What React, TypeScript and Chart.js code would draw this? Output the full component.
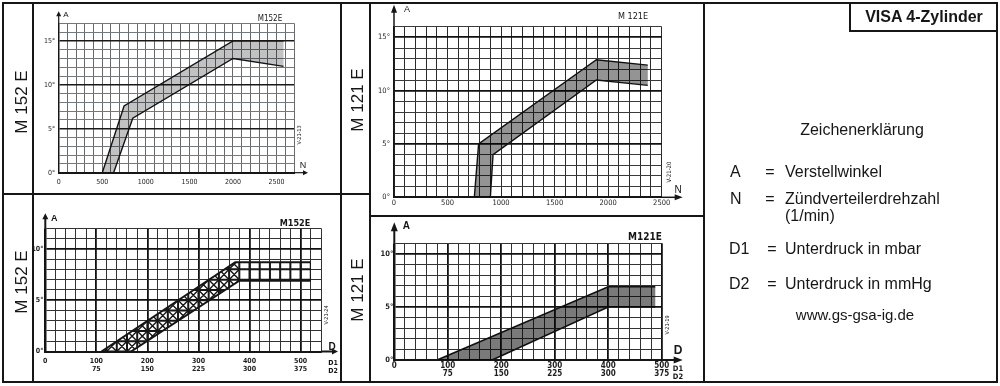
import React, { useEffect, useRef } from 'react';
import { Chart, registerables } from 'chart.js';

Chart.register(...registerables);

// ---------------- data ----------------
// M 152 E, advance angle A (deg) vs distributor speed N (1/min)
const m152nUpperRpm = [500, 750, 2000, 2580];
const m152nUpperDeg = [0, 7.6, 15, 15];
const m152nLowerRpm = [630, 850, 2000, 2580];
const m152nLowerDeg = [0, 6.2, 13, 12.1];

// M 121 E, advance angle A vs N
const m121nUpperRpm = [750, 790, 1890, 2370];
const m121nUpperDeg = [0, 5, 12.9, 12.4];
const m121nLowerRpm = [900, 925, 1890, 2370];
const m121nLowerDeg = [0, 4, 11, 10.5];

// M 152 E, advance angle A vs vacuum D (mbar)
const m152dUpperMbar = [110, 372, 520];
const m152dUpperDeg = [0, 8.7, 8.7];
const m152dLowerMbar = [168, 380, 520];
const m152dLowerDeg = [0, 6.9, 6.9];

// M 121 E, advance angle A vs vacuum D (mbar)
const m121dUpperMbar = [80, 400, 488];
const m121dUpperDeg = [0, 6.9, 6.9];
const m121dLowerMbar = [183, 400, 488];
const m121dLowerDeg = [0, 5, 5];

// tick labels
const rpmTickValues = [0, 500, 1000, 1500, 2000, 2500];
const rpmTickLabels = ['0', '500', '1000', '1500', '2000', '2500'];
const mbarTickValues = [0, 100, 200, 300, 400, 500];
const mbarTickLabels = ['0', '100', '200', '300', '400', '500'];
const mmHgTickLabels = ['', '75', '150', '225', '300', '375'];
const degTickValuesN = [0, 5, 10, 15];
const degTickLabelsN = ['0°', '5°', '10°', '15°'];
const degTickValuesD = [0, 5, 10];
const degTickLabelsD = ['0°', '5°', '10°'];

// ---------------- styling / layout ----------------
const SANS = '"Liberation Sans", Arial, sans-serif';
const NARROW = '"Liberation Sans Narrow", "DejaVu Sans Condensed", "Liberation Sans", sans-serif';
const INK = '#161616';

type Pt = { x: number; y: number };
type Decor = {
  up: number; right: number; headW: number; headLen: number; axisW: number;
  aText: string; aDx: number; aDy: number; aFont: string;
  xText: string; xDx: number; xDy: number; xFont: string;
  title: string; tDx: number; tDy: number; tFont: string;
  code: string; cDx: number; cDy: number; cFont: string;
  dLabels?: { dx: number; dy1: number; dy2: number; font: string };
};
type Spec = {
  id: string;
  canvas: { left: number; top: number; width: number; height: number };
  area: { left: number; top: number; right: number; bottom: number };
  xMax: number; xStep: number; yMax: number;
  upperX: number[]; upperY: number[]; lowerX: number[]; lowerY: number[];
  xTickValues: number[]; xTickLabels: string[]; xTickLabels2?: string[];
  yTickValues: number[]; yTickLabels: string[];
  fill: string; outlineW: number; hatchUntil?: number;
  xTickFont: any; yTickFont: any; xTickPad: number; yTickPad: number;
  xGrid: (v: number) => [string, number];
  yGrid: (v: number) => [string, number];
  decor: Decor;
};

const specs: Spec[] = [
  {
    id: 'm152n',
    canvas: { left: 34, top: 4, width: 306, height: 189 },
    area: { left: 58.7, top: 23.3, right: 294, bottom: 172.7 },
    xMax: 2700, xStep: 100, yMax: 17,
    upperX: m152nUpperRpm, upperY: m152nUpperDeg, lowerX: m152nLowerRpm, lowerY: m152nLowerDeg,
    xTickValues: rpmTickValues, xTickLabels: rpmTickLabels,
    yTickValues: degTickValuesN, yTickLabels: degTickLabelsN,
    fill: 'rgba(0,0,0,0.24)', outlineW: 1.4,
    xTickFont: { family: NARROW, size: 7, lineHeight: 1 },
    yTickFont: { family: NARROW, size: 7, lineHeight: 1 },
    xTickPad: 5.5, yTickPad: 3.5,
    xGrid: () => ['#6a6a6a', 1],
    yGrid: (v) => (v % 5 === 0 ? ['#1a1a1a', 1.6] : ['#727880', 1]),
    decor: {
      up: 12, right: 14, headW: 2.5, headLen: 5, axisW: 1.2,
      aText: 'A', aDx: 4.5, aDy: -8.3, aFont: `8px ${SANS}`,
      xText: 'N', xDx: 9, xDy: -6.7, xFont: `9px ${SANS}`,
      title: 'M152E', tDx: -24, tDy: -4.3, tFont: `8px ${NARROW}`,
      code: 'V-21-13', cDx: 6, cDy: -37.7, cFont: `5.5px ${NARROW}`,
    },
  },
  {
    id: 'm121n',
    canvas: { left: 372, top: 4, width: 331, height: 211 },
    area: { left: 394, top: 26.7, right: 661.7, bottom: 197.3 },
    xMax: 2500, xStep: 100, yMax: 16,
    upperX: m121nUpperRpm, upperY: m121nUpperDeg, lowerX: m121nLowerRpm, lowerY: m121nLowerDeg,
    xTickValues: rpmTickValues, xTickLabels: rpmTickLabels,
    yTickValues: degTickValuesN, yTickLabels: degTickLabelsN,
    fill: 'rgba(0,0,0,0.42)', outlineW: 1.4,
    xTickFont: { family: NARROW, size: 7.5, lineHeight: 1 },
    yTickFont: { family: NARROW, size: 7.5, lineHeight: 1 },
    xTickPad: 2.3, yTickPad: 4,
    xGrid: () => ['#2a2a2a', 1],
    yGrid: (v) => (v % 5 === 0 ? ['#111111', 1.8] : ['#3a3a3a', 1]),
    decor: {
      up: 22, right: 21, headW: 3, headLen: 8, axisW: 1.5,
      aText: 'A', aDx: 10, aDy: -16.7, aFont: `9px ${SANS}`,
      xText: 'N', xDx: 16.3, xDy: -7.3, xFont: `10px ${SANS}`,
      title: 'M 121E', tDx: -28.7, tDy: -9.7, tFont: `9px ${NARROW}`,
      code: 'V-21-20', cDx: 7.3, cDy: -25.3, cFont: `6px ${NARROW}`,
    },
  },
  {
    id: 'm152d',
    canvas: { left: 34, top: 195, width: 306, height: 186 },
    area: { left: 45.3, top: 228.3, right: 321, bottom: 351.5 },
    xMax: 540, xStep: 20, yMax: 12,
    upperX: m152dUpperMbar, upperY: m152dUpperDeg, lowerX: m152dLowerMbar, lowerY: m152dLowerDeg,
    xTickValues: mbarTickValues, xTickLabels: mbarTickLabels, xTickLabels2: mmHgTickLabels,
    yTickValues: degTickValuesD, yTickLabels: degTickLabelsD,
    fill: 'rgba(255,255,255,0)', outlineW: 2, hatchUntil: 376,
    xTickFont: { family: NARROW, size: 7, weight: 'bold', lineHeight: 1.1 },
    yTickFont: { family: NARROW, size: 7, weight: 'bold', lineHeight: 1 },
    xTickPad: 5.7, yTickPad: 2,
    xGrid: (v) => (v % 100 === 0 ? ['#111111', 1.8] : ['#333333', 1]),
    yGrid: (v) => (v % 5 === 0 ? ['#111111', 1.8] : ['#333333', 1]),
    decor: {
      up: 15, right: 17, headW: 3, headLen: 6, axisW: 2,
      aText: 'A', aDx: 5.7, aDy: -10, aFont: `bold 9px ${SANS}`,
      xText: 'D', xDx: 11, xDy: -4.5, xFont: `bold 10px ${SANS}`,
      title: 'M152E', tDx: -26, tDy: -4.3, tFont: `bold 9px ${NARROW}`,
      code: 'V-21-24', cDx: 6, cDy: -36.5, cFont: `5.5px ${NARROW}`,
      dLabels: { dx: 12, dy1: 11.5, dy2: 19.5, font: `bold 7px ${NARROW}` },
    },
  },
  {
    id: 'm121d',
    canvas: { left: 372, top: 217, width: 331, height: 164 },
    area: { left: 394.3, top: 243.3, right: 661.7, bottom: 360 },
    xMax: 500, xStep: 20, yMax: 11,
    upperX: m121dUpperMbar, upperY: m121dUpperDeg, lowerX: m121dLowerMbar, lowerY: m121dLowerDeg,
    xTickValues: mbarTickValues, xTickLabels: mbarTickLabels, xTickLabels2: mmHgTickLabels,
    yTickValues: degTickValuesD, yTickLabels: degTickLabelsD,
    fill: 'rgba(0,0,0,0.52)', outlineW: 1.6,
    xTickFont: { family: NARROW, size: 8, weight: 'bold', lineHeight: 0.92 },
    yTickFont: { family: NARROW, size: 7.5, weight: 'bold', lineHeight: 1 },
    xTickPad: 2.7, yTickPad: 1,
    xGrid: (v) => (v % 100 === 0 ? ['#111111', 1.8] : ['#333333', 1]),
    yGrid: (v) => (v % 5 === 0 ? ['#111111', 1.8] : ['#333333', 1]),
    decor: {
      up: 21, right: 21, headW: 3.5, headLen: 9, axisW: 2,
      aText: 'A', aDx: 8.4, aDy: -16.6, aFont: `bold 10px ${SANS}`,
      xText: 'D', xDx: 16.3, xDy: -9.3, xFont: `bold 12px ${SANS}`,
      title: 'M121E', tDx: -16.7, tDy: -6.3, tFont: `bold 10px ${NARROW}`,
      code: 'V-21-19', cDx: 6.3, cDy: -35, cFont: `5.5px ${NARROW}`,
      dLabels: { dx: 16.3, dy1: 9, dy2: 17, font: `bold 7.5px ${NARROW}` },
    },
  },
];

function makePlugin(s: Spec, poly: Pt[]) {
  return {
    id: 'decor_' + s.id,
    afterDatasetsDraw(chart: any) {
      if (s.hatchUntil == null) return;
      const { ctx, chartArea } = chart;
      const xs = chart.scales.x;
      const ys = chart.scales.y;
      ctx.save();
      ctx.beginPath();
      poly.forEach((p, i) => {
        const px = xs.getPixelForValue(p.x);
        const py = ys.getPixelForValue(p.y);
        if (i === 0) ctx.moveTo(px, py);
        else ctx.lineTo(px, py);
      });
      ctx.closePath();
      ctx.clip();
      ctx.strokeStyle = INK;
      ctx.lineWidth = 1.4;
      ctx.beginPath();
      for (let x = 0; x < s.hatchUntil; x += s.xStep) {
        for (let y = 0; y < s.yMax; y += 1) {
          const x0 = xs.getPixelForValue(x);
          const x1 = xs.getPixelForValue(x + s.xStep);
          const y0 = ys.getPixelForValue(y);
          const y1 = ys.getPixelForValue(y + 1);
          ctx.moveTo(x0, y0);
          ctx.lineTo(x1, y1);
          ctx.moveTo(x0, y1);
          ctx.lineTo(x1, y0);
        }
      }
      ctx.stroke();
      ctx.lineWidth = 2;
      ctx.beginPath();
      for (let x = 0; x <= s.xMax; x += s.xStep) {
        const px = xs.getPixelForValue(x);
        ctx.moveTo(px, chartArea.top);
        ctx.lineTo(px, chartArea.bottom);
      }
      for (let y = 0; y <= s.yMax; y += 1) {
        const py = ys.getPixelForValue(y);
        ctx.moveTo(chartArea.left, py);
        ctx.lineTo(chartArea.right, py);
      }
      ctx.stroke();
      ctx.restore();
    },
    afterDraw(chart: any) {
      const { ctx, chartArea } = chart;
      const { left, top, right, bottom } = chartArea;
      const d = s.decor;
      ctx.save();
      ctx.strokeStyle = INK;
      ctx.fillStyle = INK;
      ctx.lineWidth = d.axisW;
      // vertical axis arrow
      ctx.beginPath();
      ctx.moveTo(left, top);
      ctx.lineTo(left, top - d.up + d.headLen * 0.5);
      ctx.stroke();
      ctx.beginPath();
      ctx.moveTo(left, top - d.up);
      ctx.lineTo(left - d.headW, top - d.up + d.headLen);
      ctx.lineTo(left + d.headW, top - d.up + d.headLen);
      ctx.closePath();
      ctx.fill();
      // horizontal axis arrow
      ctx.beginPath();
      ctx.moveTo(right, bottom);
      ctx.lineTo(right + d.right - d.headLen * 0.5, bottom);
      ctx.stroke();
      ctx.beginPath();
      ctx.moveTo(right + d.right, bottom);
      ctx.lineTo(right + d.right - d.headLen, bottom - d.headW);
      ctx.lineTo(right + d.right - d.headLen, bottom + d.headW);
      ctx.closePath();
      ctx.fill();

      const text = (t: string, x: number, y: number, font: string, align: CanvasTextAlign, rot = 0) => {
        ctx.save();
        ctx.translate(x, y);
        ctx.rotate(rot);
        ctx.font = font;
        ctx.textAlign = align;
        ctx.textBaseline = 'middle';
        ctx.fillText(t, 0, 0);
        ctx.restore();
      };
      text(d.aText, left + d.aDx, top + d.aDy, d.aFont, 'left');
      text(d.xText, right + d.xDx, bottom + d.xDy, d.xFont, 'center');
      text(d.title, right + d.tDx, top + d.tDy, d.tFont, 'center');
      text(d.code, right + d.cDx, bottom + d.cDy, d.cFont, 'center', -Math.PI / 2);
      if (d.dLabels) {
        text('D1', right + d.dLabels.dx, bottom + d.dLabels.dy1, d.dLabels.font, 'center');
        text('D2', right + d.dLabels.dx, bottom + d.dLabels.dy2, d.dLabels.font, 'center');
      }
      ctx.restore();
    },
  };
}

function buildConfig(s: Spec): any {
  const upper: Pt[] = s.upperX.map((x, i) => ({ x, y: s.upperY[i] }));
  const lower: Pt[] = s.lowerX.map((x, i) => ({ x, y: s.lowerY[i] }));
  const poly: Pt[] = [...upper, ...lower.slice().reverse(), upper[0]];
  const yW = s.area.left - s.canvas.left;
  const xH = s.canvas.top + s.canvas.height - s.area.bottom;
  return {
    type: 'line',
    data: {
      datasets: [
        { data: poly, fill: 'shape', backgroundColor: s.fill, borderWidth: 0, pointRadius: 0, tension: 0 },
        { data: upper, fill: false, borderColor: INK, borderWidth: s.outlineW, pointRadius: 0, tension: 0 },
        { data: lower, fill: false, borderColor: INK, borderWidth: s.outlineW, pointRadius: 0, tension: 0 },
      ],
    },
    options: {
      responsive: false,
      animation: false,
      events: [],
      layout: {
        padding: {
          left: 0,
          top: s.area.top - s.canvas.top,
          right: s.canvas.left + s.canvas.width - s.area.right,
          bottom: 0,
        },
      },
      plugins: { legend: { display: false }, tooltip: { enabled: false }, title: { display: false } },
      scales: {
        x: {
          type: 'linear',
          min: 0,
          max: s.xMax,
          afterFit: (sc: any) => { sc.height = xH; },
          ticks: {
            stepSize: s.xStep,
            maxTicksLimit: 1000,
            autoSkip: false,
            maxRotation: 0,
            minRotation: 0,
            padding: s.xTickPad,
            color: '#1e1e1e',
            font: s.xTickFont,
            callback: (v: number) => {
              const i = s.xTickValues.indexOf(v);
              if (i < 0) return '';
              const l2 = s.xTickLabels2 ? s.xTickLabels2[i] : '';
              return l2 ? [s.xTickLabels[i], l2] : s.xTickLabels[i];
            },
          },
          grid: {
            drawTicks: false,
            color: (c: any) => s.xGrid(c.tick ? c.tick.value : 0)[0],
            lineWidth: (c: any) => s.xGrid(c.tick ? c.tick.value : 0)[1],
          },
          border: { display: true, color: INK, width: 2 },
        },
        y: {
          type: 'linear',
          min: 0,
          max: s.yMax,
          afterFit: (sc: any) => { sc.width = yW; },
          ticks: {
            stepSize: 1,
            maxTicksLimit: 1000,
            autoSkip: false,
            padding: s.yTickPad,
            color: '#1e1e1e',
            font: s.yTickFont,
            callback: (v: number) => {
              const i = s.yTickValues.indexOf(v);
              return i < 0 ? '' : s.yTickLabels[i];
            },
          },
          grid: {
            drawTicks: false,
            color: (c: any) => s.yGrid(c.tick ? c.tick.value : 0)[0],
            lineWidth: (c: any) => s.yGrid(c.tick ? c.tick.value : 0)[1],
          },
          border: { display: true, color: INK, width: 1.5 },
        },
      },
    },
    plugins: [makePlugin(s, poly)],
  };
}

const abs = (left: number, top: number, width: number, height: number, extra: any = {}): React.CSSProperties => ({
  position: 'absolute', left, top, width, height, background: INK, ...extra,
});

const rotLabel = (t: string, cx: number, cy: number) => (
  <div
    style={{
      position: 'absolute', left: cx, top: cy, transform: 'translate(-50%, -50%) rotate(-90deg)',
      whiteSpace: 'nowrap', fontFamily: SANS, fontSize: 17, lineHeight: 1, color: INK,
    }}
  >
    {t}
  </div>
);

const txt = (t: string, x: number, y: number, size: number, align: 'left' | 'center' = 'left', extra: any = {}) => (
  <div
    style={{
      position: 'absolute', left: x, top: y, whiteSpace: 'nowrap', fontFamily: SANS, fontSize: size,
      lineHeight: 1, color: INK, transform: align === 'center' ? 'translate(-50%, -50%)' : 'translateY(-50%)', ...extra,
    }}
  >
    {t}
  </div>
);

export default function App() {
  const r0 = useRef<HTMLCanvasElement>(null);
  const r1 = useRef<HTMLCanvasElement>(null);
  const r2 = useRef<HTMLCanvasElement>(null);
  const r3 = useRef<HTMLCanvasElement>(null);
  const refs = [r0, r1, r2, r3];

  useEffect(() => {
    const charts = specs.map((s, i) => new Chart(refs[i].current as HTMLCanvasElement, buildConfig(s)));
    return () => charts.forEach((c) => c.destroy());
  }, []);

  return (
    <div style={{ position: 'fixed', left: 0, top: 0, width: 1000, height: 386, background: '#ffffff', overflow: 'hidden' }}>
      {specs.map((s, i) => (
        <canvas
          key={s.id}
          ref={refs[i]}
          width={s.canvas.width}
          height={s.canvas.height}
          style={{ position: 'absolute', left: s.canvas.left, top: s.canvas.top, width: s.canvas.width, height: s.canvas.height }}
        />
      ))}

      {/* frame */}
      <div style={{ position: 'absolute', left: 2, top: 2, width: 996, height: 381, border: `2px solid ${INK}`, boxSizing: 'border-box' }} />
      <div style={abs(32, 2, 2, 381)} />
      <div style={abs(340, 2, 2, 381)} />
      <div style={abs(369, 2, 2, 381)} />
      <div style={abs(703, 2, 2, 381)} />
      <div style={abs(2, 193, 369, 2)} />
      <div style={abs(369, 215, 336, 2)} />
      <div style={abs(849, 2, 2, 30)} />
      <div style={abs(849, 30, 149, 2)} />

      {rotLabel('M 152 E', 21, 102)}
      {rotLabel('M 152 E', 21, 282)}
      {rotLabel('M 121 E', 357, 100)}
      {rotLabel('M 121 E', 357, 290)}

      {txt('VISA 4-Zylinder', 924, 16.5, 16, 'center', { fontWeight: 'bold' })}
      {txt('Zeichenerklärung', 862, 130, 16, 'center')}
      {txt('A', 730, 172, 16)}
      {txt('=', 770, 172, 16, 'center')}
      {txt('Verstellwinkel', 785, 172, 16)}
      {txt('N', 730, 199, 16)}
      {txt('=', 770, 199, 16, 'center')}
      {txt('Zündverteilerdrehzahl', 785, 199, 16)}
      {txt('(1/min)', 785, 216, 16)}
      {txt('D1', 729, 249, 16)}
      {txt('=', 772, 249, 16, 'center')}
      {txt('Unterdruck in mbar', 785, 249, 16)}
      {txt('D2', 729, 284, 16)}
      {txt('=', 772, 284, 16, 'center')}
      {txt('Unterdruck in mmHg', 785, 284, 16)}
      {txt('www.gs-gsa-ig.de', 855, 314, 15, 'center')}
    </div>
  );
}
